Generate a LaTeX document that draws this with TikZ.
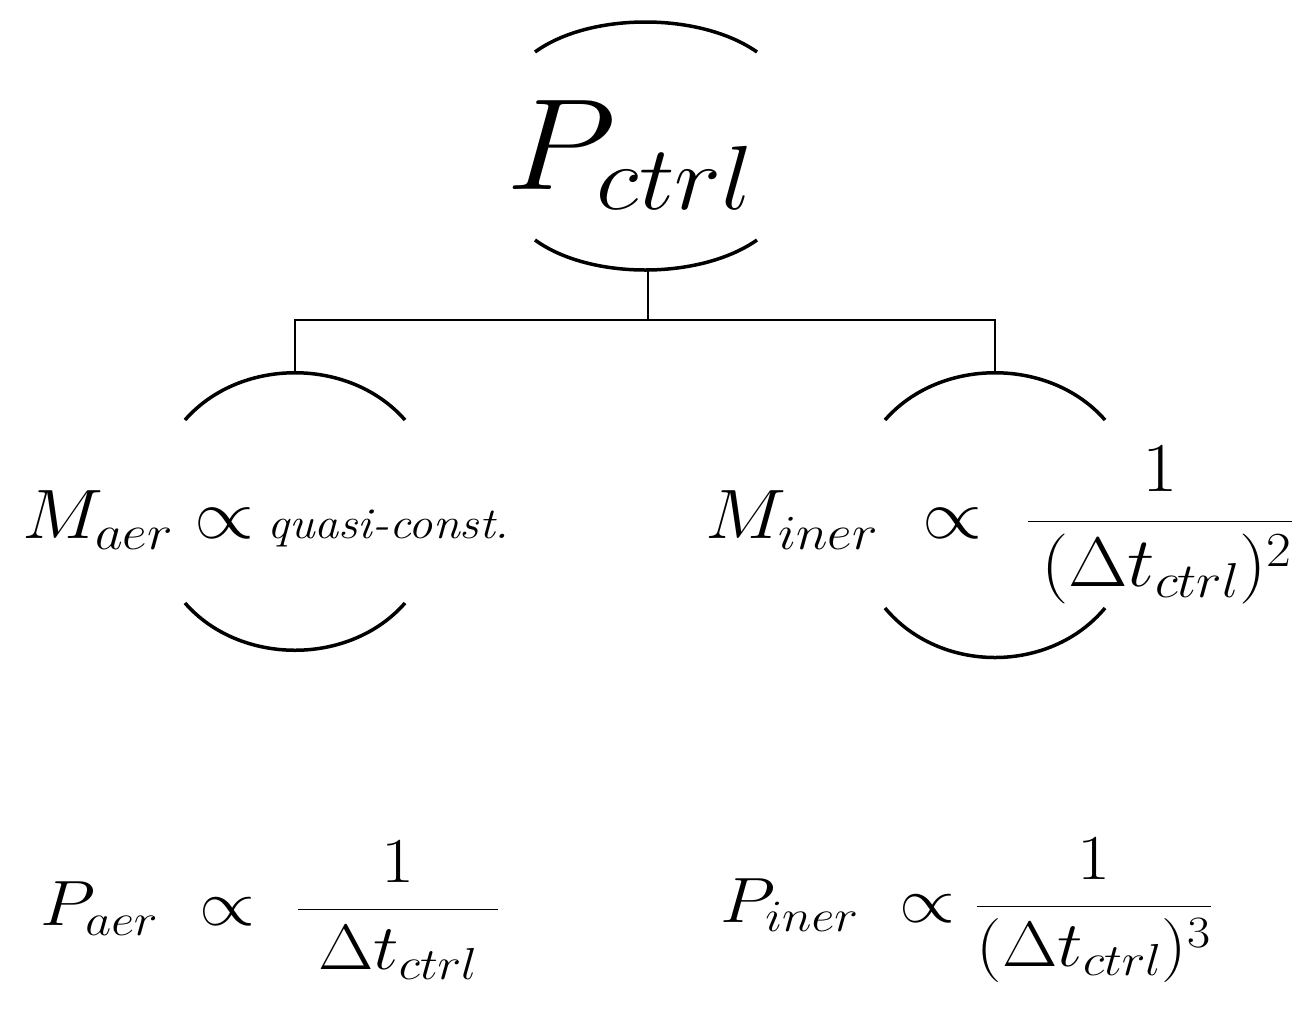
\documentclass[tikz,border=0pt]{standalone}
\usepackage{fix-cm}
\usepackage{amsmath}
\begin{document}
\begin{tikzpicture}[x=1pt,y=-1pt,
  arc/.style={line width=3.5pt},
  tree/.style={line width=1.6pt},
  lab/.style={inner sep=0pt,anchor=center}]
\useasboundingbox (0,0) rectangle (1305,1026);
% arcs
\draw[arc] (535,52) .. controls (590,12) and (700,12) .. (757,52);
\draw[arc] (535,240) .. controls (590,280) and (700,280) .. (757,240);
\draw[arc] (185,420) .. controls (240,357) and (350,357) .. (405,420);
\draw[arc] (185,603) .. controls (240,666) and (350,666) .. (405,603);
\draw[arc] (885,420) .. controls (940,357) and (1050,357) .. (1105,420);
\draw[arc] (885,608) .. controls (940,674) and (1050,674) .. (1105,608);
% tree
\coordinate (top) at (648,268);
\coordinate (mid) at (648,320);
\coordinate (l) at (295,320);
\coordinate (r) at (995,320);
\coordinate (lb) at (295,373);
\coordinate (rb) at (995,373);
\draw[tree] (top) -- (mid);
\draw[tree] (lb) -- (l) -- (r) -- (rb);
% texts
\node[lab,xscale=1.1] (pctrl) at (630,155) {\fontsize{130}{135}\selectfont $P_{ctrl}$};
\node[lab,anchor=west,xscale=1.1] (maer) at (22,520) {\fontsize{70}{74}\selectfont $M_{aer}\propto$\,{\fontsize{44}{46}\selectfont\itshape quasi-const.}};
\node[lab,anchor=west,xscale=1.1] (miner) at (705,525) {\fontsize{70}{74}\selectfont $M_{iner}\ \propto\ \dfrac{1}{\,(\Delta t_{ctrl})^2}$};
\node[lab,anchor=west,xscale=1.12] (paer) at (40,910) {\fontsize{64}{68}\selectfont $P_{aer}\ \propto\ \dfrac{1}{\;\Delta t_{ctrl}\;}$};
\node[lab,anchor=west,xscale=1.12] (piner) at (720,910) {\fontsize{64}{68}\selectfont $P_{iner}\ \propto\dfrac{1}{(\Delta t_{ctrl})^3}$};
\end{tikzpicture}
\end{document}
